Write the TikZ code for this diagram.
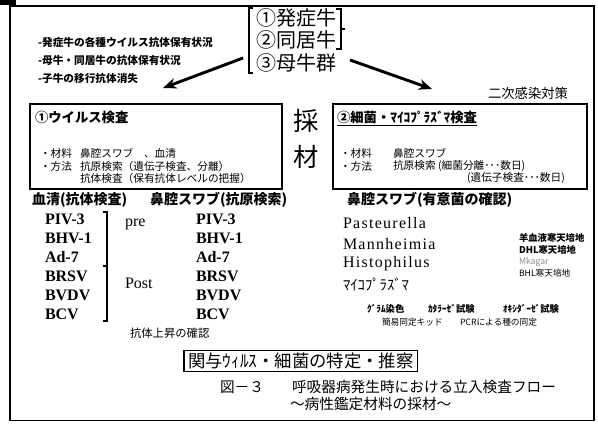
\documentclass[tikz,border=0pt]{standalone}
\usepackage{fontspec}
\setmainfont{Liberation Serif}
\newfontfamily\jp{Noto Sans CJK JP}
\newfontfamily\spserif[LetterSpace=8]{Liberation Serif}
\usetikzlibrary{arrows.meta}
\begin{document}
\begin{tikzpicture}[x=0.75pt,y=-0.75pt,
  every node/.style={inner sep=0pt,outer sep=0pt},
  bul/.style={anchor=west,font=\jp\bfseries\fontsize{8}{9}\selectfont},
  grp/.style={anchor=west,font=\jp\fontsize{15}{17}\selectfont},
  btitle/.style={anchor=west,font=\jp\bfseries\fontsize{10}{12}\selectfont},
  body/.style={anchor=west,font=\jp\fontsize{8}{10}\selectfont},
  head/.style={anchor=west,font=\jp\bfseries\fontsize{10.5}{12}\selectfont},
  lst/.style={anchor=west,font=\rmfamily\bfseries\fontsize{12}{14}\selectfont},
  ser/.style={anchor=west,font=\rmfamily\fontsize{12}{14}\selectfont},
  genus/.style={anchor=west,font=\spserif\fontsize{12}{14}\selectfont},
  tiny/.style={anchor=west,font=\jp\fontsize{6.5}{8}\selectfont},
  tinyb/.style={anchor=west,font=\jp\bfseries\fontsize{7}{8}\selectfont},
  captxt/.style={anchor=west,font=\jp\fontsize{11}{13}\selectfont},
  boxst/.style={draw,line width=1.5pt,anchor=north west},
  bigarrow/.style={line width=2.2pt,-{Stealth[length=10pt,width=8pt]}},
  brk/.style={line width=1.4pt}]
\useasboundingbox (0,0) rectangle (598,444);
% frame
\fill (0,0) rectangle (16,5);
\node[draw,line width=1.2pt,minimum width=438pt,minimum height=311pt,anchor=north west] (frame) at (10,6) {};
% top bullets
\node[bul] (b1) at (38,42) {-発症牛の各種ウイルス抗体保有状況};
\node[bul] (b2) at (38,60) {-母牛・同居牛の抗体保有状況};
\node[bul] (b3) at (38,78) {-子牛の移行抗体消失};
% groups
\node[grp] (g1) at (256,18) {①発症牛};
\node[grp] (g2) at (256,40) {②同居牛};
\node[grp] (g3) at (256,63) {③母牛群};
\draw[brk] (253,8) -- (249,8) -- (249,73) -- (253,73);
\draw[brk] (336,9) -- (341,9) -- (341,49) -- (336,49);
\draw[brk] (341,29) -- (345,29);
\coordinate (la) at (243,58);
\coordinate (lb) at (163,88);
\coordinate (ra) at (350,60);
\coordinate (rb) at (432,89);
\draw[bigarrow] (la) -- (lb);
\draw[bigarrow] (ra) -- (rb);
\node[anchor=west,font=\jp\fontsize{10}{12}\selectfont] (niji) at (488,93) {二次感染対策};
% box 1
\node[boxst,minimum width=189pt,minimum height=63.75pt] (box1) at (30,104) {};
\node[btitle] (t1) at (35,117) {①ウイルス検査};
\node[body] (m1a) at (40,153) {・材料};
\node[body] (m1b) at (80,153) {鼻腔スワブ　、血清};
\node[body] (h1a) at (40,166) {・方法};
\node[body] (h1b) at (80,166) {抗原検索（遺伝子検査、分離）};
\node[body] (h1c) at (80,178) {抗体検査（保有抗体レベルの把握）};
% sampling
\node[font=\jp\fontsize{19}{21}\selectfont] (sai) at (306,121) {採};
\node[font=\jp\fontsize{19}{21}\selectfont] (zai) at (306,157) {材};
% box 2
\node[boxst,minimum width=190.5pt,minimum height=63.75pt] (box2) at (333,104) {};
\node[btitle] (t2) at (337,117) {②細菌・ﾏｲｺﾌﾟﾗｽﾞﾏ検査};
\draw[line width=0.8pt] (t2.south west) ++(0,2) coordinate (u1) -- (t2.south east |- u1);
\node[body] (m2a) at (340,153) {・材料};
\node[body] (m2b) at (393,153) {鼻腔スワブ};
\node[body] (h2a) at (340,166) {・方法};
\node[body] (h2b) at (393,166) {抗原検索 (細菌分離･･･数日)};
\node[body] (h2c) at (467,178) {(遺伝子検査･･･数日)};
% headers
\node[head] (hs) at (32,200) {血清(抗体検査)};
\node[head] (hn) at (150,200) {鼻腔スワブ(抗原検索)};
\node[head] (hb) at (347,200) {鼻腔スワブ(有意菌の確認)};
% left list
\node[lst] (l1) at (45,219) {PIV-3};
\node[lst] (l2) at (45,238) {BHV-1};
\node[lst] (l3) at (45,257) {Ad-7};
\node[lst] (l4) at (45,276) {BRSV};
\node[lst] (l5) at (45,295) {BVDV};
\node[lst] (l6) at (45,314) {BCV};
\draw[line width=1.2pt] (103,212) -- (107,212) -- (107,321) -- (103,321);
\draw[line width=1.2pt] (107,266) -- (103,266);
\node[ser] (pre) at (125,224) {pre};
\node[ser] (post) at (125,283) {Post};
% right list
\node[lst] (r1) at (196,219) {PIV-3};
\node[lst] (r2) at (196,238) {BHV-1};
\node[lst] (r3) at (196,257) {Ad-7};
\node[lst] (r4) at (196,276) {BRSV};
\node[lst] (r5) at (196,295) {BVDV};
\node[lst] (r6) at (196,314) {BCV};
\node[anchor=west,font=\jp\fontsize{8.5}{10}\selectfont] (kakunin) at (130,333) {抗体上昇の確認};
% bacteria
\node[genus] (p1) at (343,223) {Pasteurella};
\node[genus] (p2) at (343,244) {Mannheimia};
\node[genus] (p3) at (343,264) {Histophilus};
\node[anchor=west,font=\jp\fontsize{11}{13}\selectfont] (p4) at (343,285) {ﾏｲｺﾌﾟﾗｽﾞﾏ};
\node[tinyb] (a1) at (519,238) {羊血液寒天培地};
\node[tinyb] (a2) at (519,250) {DHL寒天培地};
\node[tiny,text=black!45] (a3) at (519,262) {Mkagar};
\node[tiny] (a4) at (519,273) {BHL寒天培地};
\node[tinyb] (c1) at (367,309) {ｸﾞﾗﾑ染色};
\node[tinyb] (c2) at (428,309) {ｶﾀﾗｰｾﾞ試験};
\node[tinyb] (c3) at (503,309) {ｵｷｼﾀﾞｰｾﾞ試験};
\node[tiny] (d1) at (382,322) {簡易同定キッド};
\node[tiny] (d2) at (460,322) {PCRによる種の同定};
% result
\node[draw,line width=1pt,anchor=west,inner xsep=3pt,inner ysep=2pt,font=\jp\fontsize{13}{15}\selectfont] (res) at (184,361) {関与ｳｨﾙｽ・細菌の特定・推察};
% caption
\node[captxt] (fig) at (220,387) {図－３};
\node[captxt] (ttl) at (292,387) {呼吸器病発生時における立入検査フロー};
\node[captxt] (sub) at (290,404) {～病性鑑定材料の採材～};
\end{tikzpicture}
\end{document}
